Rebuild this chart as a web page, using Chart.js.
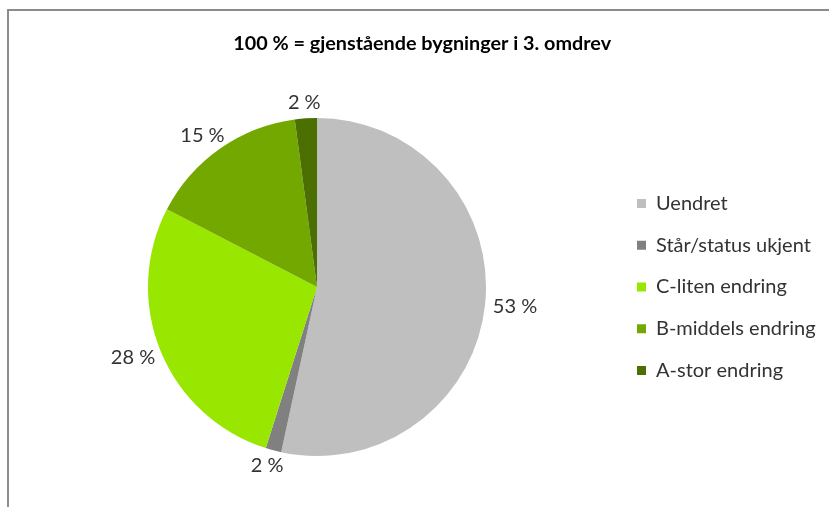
<!DOCTYPE html>
<html>
<head>
<meta charset="utf-8">
<script src="https://cdn.jsdelivr.net/npm/chart.js@4"></script>
<style>
    html, body { margin: 0; padding: 0; background: #fff; overflow: hidden; }
    #wrap { position: relative; width: 829px; height: 507px; overflow: hidden; }
    #frame { position: absolute; left: 7px; top: 9px; width: 900px; height: 600px;
             border-left: 2px solid #8c8c8c; border-top: 2px solid #8c8c8c; pointer-events: none; }
    #chart { position: absolute; left: 0; top: 0; }
</style>
</head>
<body>
<div id="wrap">
    <canvas id="chart" width="845" height="507"></canvas>
    <div id="frame"></div>
</div>
<script>
const title = '100 % = gjenstående bygninger i 3. omdrev';
const categories = ['Uendret', 'Står/status ukjent', 'C-liten endring', 'B-middels endring', 'A-stor endring'];
const shares = [53.4, 1.5, 27.7, 15.3, 2.1];
const colours = ['#bfbfbf', '#808080', '#99e600', '#73a800', '#4b6f00'];

const fontFamily = 'Lato, "Open Sans", sans-serif';
const fontSize = 20;
const titleSize = 19.8;
const legendPadding = 21.7;
const boxSize = 9;

// measure the widest legend entry so the legend lands where the original has it
const measureCtx = document.createElement('canvas').getContext('2d');
measureCtx.font = `${fontSize}px ${fontFamily}`;
const widest = Math.max(...categories.map(c => measureCtx.measureText(c).width));
const itemWidth = boxSize + fontSize / 2 + widest;
const canvasWidth = 845;
const legendBoxX = 637;
const padRight = canvasWidth - (legendBoxX - legendPadding) - (legendPadding + itemWidth + 10);
const padLeft = 2 * 317 - (legendBoxX - legendPadding);

const outsideLabels = {
    id: 'outsideLabels',
    afterDatasetsDraw(chart) {
        const ctx = chart.ctx;
        const meta = chart.getDatasetMeta(0);
        ctx.save();
        ctx.font = `${fontSize}px ${fontFamily}`;
        ctx.fillStyle = '#333';
        ctx.textAlign = 'center';
        ctx.textBaseline = 'middle';
        meta.data.forEach((arc, i) => {
            const {x, y, startAngle, endAngle, outerRadius} = arc.getProps(['x', 'y', 'startAngle', 'endAngle', 'outerRadius'], true);
            const mid = (startAngle + endAngle) / 2;
            const dx = Math.cos(mid), dy = Math.sin(mid);
            const text = Math.round(shares[i]) + ' %';
            const w = ctx.measureText(text).width;
            const h = fontSize * 0.8;
            const gap = 8;
            const lx = x + (outerRadius + gap) * dx + dx * w / 2;
            const ly = y + (outerRadius + gap) * dy + dy * h / 2;
            ctx.fillText(text, lx, ly);
        });
        ctx.restore();
    }
};

new Chart(document.getElementById('chart'), {
    type: 'pie',
    data: {
        labels: categories,
        datasets: [{
            data: shares,
            backgroundColor: colours,
            borderWidth: 0
        }]
    },
    options: {
        responsive: false,
        animation: false,
        layout: {
            padding: {left: padLeft, right: padRight, top: 0, bottom: 51}
        },
        plugins: {
            title: {
                display: true,
                text: title,
                color: '#000',
                font: {family: fontFamily, size: titleSize, weight: 'bold', lineHeight: 1.2},
                padding: {top: 44 - titleSize * 0.6, bottom: 118 - 44 - titleSize * 0.6}
            },
            legend: {
                position: 'right',
                align: 'center',
                fullSize: false,
                labels: {
                    boxWidth: boxSize,
                    boxHeight: boxSize,
                    padding: legendPadding,
                    color: '#333',
                    font: {family: fontFamily, size: fontSize}
                }
            },
            tooltip: {enabled: false}
        }
    },
    plugins: [outsideLabels]
});
</script>
</body>
</html>
